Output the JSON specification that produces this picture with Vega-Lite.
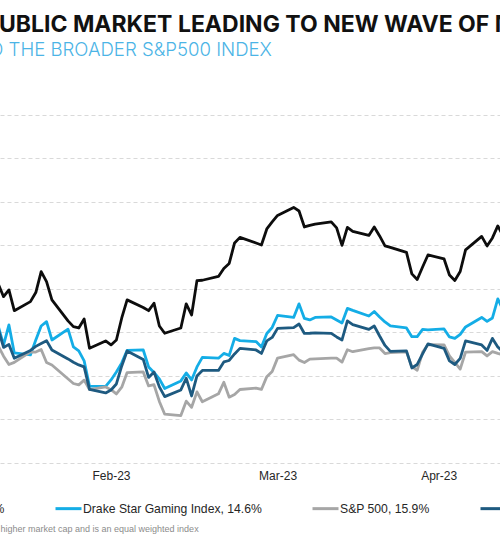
{
  "$schema": "https://vega.github.io/schema/vega-lite/v6.json",
  "width": 500,
  "height": 347.7,
  "autosize": {"type": "none"},
  "padding": {"top": 115, "left": 0, "right": 0, "bottom": 87.3},
  "background": "white",
  "config": {"view": {"stroke": null}},
  "title": {
    "text": "PUBLIC MARKET LEADING TO NEW WAVE OF M&A",
    "anchor": "start",
    "frame": "group",
    "font": "Inter",
    "fontSize": 23,
    "fontWeight": 700,
    "color": "#111111",
    "dx": -16,
    "offset": 3
  },
  "data": {
    "values": [
      {"date": "2023-02-07", "series": "Drake Star Top 10 Gaming Index*, 26.2%", "value": 115.57},
      {"date": "2023-02-08", "series": "Drake Star Top 10 Gaming Index*, 26.2%", "value": 114.10},
      {"date": "2023-02-09", "series": "Drake Star Top 10 Gaming Index*, 26.2%", "value": 114.88},
      {"date": "2023-02-10", "series": "Drake Star Top 10 Gaming Index*, 26.2%", "value": 112.49},
      {"date": "2023-02-13", "series": "Drake Star Top 10 Gaming Index*, 26.2%", "value": 113.53},
      {"date": "2023-02-14", "series": "Drake Star Top 10 Gaming Index*, 26.2%", "value": 114.57},
      {"date": "2023-02-15", "series": "Drake Star Top 10 Gaming Index*, 26.2%", "value": 116.98},
      {"date": "2023-02-16", "series": "Drake Star Top 10 Gaming Index*, 26.2%", "value": 115.83},
      {"date": "2023-02-17", "series": "Drake Star Top 10 Gaming Index*, 26.2%", "value": 113.73},
      {"date": "2023-02-20", "series": "Drake Star Top 10 Gaming Index*, 26.2%", "value": 111.32},
      {"date": "2023-02-21", "series": "Drake Star Top 10 Gaming Index*, 26.2%", "value": 110.65},
      {"date": "2023-02-22", "series": "Drake Star Top 10 Gaming Index*, 26.2%", "value": 110.50},
      {"date": "2023-02-23", "series": "Drake Star Top 10 Gaming Index*, 26.2%", "value": 111.54},
      {"date": "2023-02-24", "series": "Drake Star Top 10 Gaming Index*, 26.2%", "value": 108.17},
      {"date": "2023-02-27", "series": "Drake Star Top 10 Gaming Index*, 26.2%", "value": 109.01},
      {"date": "2023-02-28", "series": "Drake Star Top 10 Gaming Index*, 26.2%", "value": 108.55},
      {"date": "2023-03-01", "series": "Drake Star Top 10 Gaming Index*, 26.2%", "value": 109.12},
      {"date": "2023-03-02", "series": "Drake Star Top 10 Gaming Index*, 26.2%", "value": 111.65},
      {"date": "2023-03-03", "series": "Drake Star Top 10 Gaming Index*, 26.2%", "value": 113.73},
      {"date": "2023-03-06", "series": "Drake Star Top 10 Gaming Index*, 26.2%", "value": 112.86},
      {"date": "2023-03-07", "series": "Drake Star Top 10 Gaming Index*, 26.2%", "value": 112.49},
      {"date": "2023-03-08", "series": "Drake Star Top 10 Gaming Index*, 26.2%", "value": 113.35},
      {"date": "2023-03-09", "series": "Drake Star Top 10 Gaming Index*, 26.2%", "value": 110.73},
      {"date": "2023-03-10", "series": "Drake Star Top 10 Gaming Index*, 26.2%", "value": 109.89},
      {"date": "2023-03-13", "series": "Drake Star Top 10 Gaming Index*, 26.2%", "value": 110.50},
      {"date": "2023-03-14", "series": "Drake Star Top 10 Gaming Index*, 26.2%", "value": 113.27},
      {"date": "2023-03-15", "series": "Drake Star Top 10 Gaming Index*, 26.2%", "value": 112.00},
      {"date": "2023-03-16", "series": "Drake Star Top 10 Gaming Index*, 26.2%", "value": 115.95},
      {"date": "2023-03-17", "series": "Drake Star Top 10 Gaming Index*, 26.2%", "value": 115.99},
      {"date": "2023-03-20", "series": "Drake Star Top 10 Gaming Index*, 26.2%", "value": 116.43},
      {"date": "2023-03-21", "series": "Drake Star Top 10 Gaming Index*, 26.2%", "value": 117.35},
      {"date": "2023-03-22", "series": "Drake Star Top 10 Gaming Index*, 26.2%", "value": 117.92},
      {"date": "2023-03-23", "series": "Drake Star Top 10 Gaming Index*, 26.2%", "value": 120.28},
      {"date": "2023-03-24", "series": "Drake Star Top 10 Gaming Index*, 26.2%", "value": 120.92},
      {"date": "2023-03-27", "series": "Drake Star Top 10 Gaming Index*, 26.2%", "value": 120.28},
      {"date": "2023-03-28", "series": "Drake Star Top 10 Gaming Index*, 26.2%", "value": 120.05},
      {"date": "2023-03-29", "series": "Drake Star Top 10 Gaming Index*, 26.2%", "value": 121.89},
      {"date": "2023-03-30", "series": "Drake Star Top 10 Gaming Index*, 26.2%", "value": 122.70},
      {"date": "2023-03-31", "series": "Drake Star Top 10 Gaming Index*, 26.2%", "value": 123.45},
      {"date": "2023-04-03", "series": "Drake Star Top 10 Gaming Index*, 26.2%", "value": 124.37},
      {"date": "2023-04-04", "series": "Drake Star Top 10 Gaming Index*, 26.2%", "value": 123.96},
      {"date": "2023-04-05", "series": "Drake Star Top 10 Gaming Index*, 26.2%", "value": 122.12},
      {"date": "2023-04-06", "series": "Drake Star Top 10 Gaming Index*, 26.2%", "value": 122.30},
      {"date": "2023-04-07", "series": "Drake Star Top 10 Gaming Index*, 26.2%", "value": 122.45},
      {"date": "2023-04-10", "series": "Drake Star Top 10 Gaming Index*, 26.2%", "value": 122.70},
      {"date": "2023-04-11", "series": "Drake Star Top 10 Gaming Index*, 26.2%", "value": 122.01},
      {"date": "2023-04-12", "series": "Drake Star Top 10 Gaming Index*, 26.2%", "value": 120.00},
      {"date": "2023-04-13", "series": "Drake Star Top 10 Gaming Index*, 26.2%", "value": 122.07},
      {"date": "2023-04-14", "series": "Drake Star Top 10 Gaming Index*, 26.2%", "value": 121.61},
      {"date": "2023-04-17", "series": "Drake Star Top 10 Gaming Index*, 26.2%", "value": 121.15},
      {"date": "2023-04-18", "series": "Drake Star Top 10 Gaming Index*, 26.2%", "value": 122.12},
      {"date": "2023-04-19", "series": "Drake Star Top 10 Gaming Index*, 26.2%", "value": 121.09},
      {"date": "2023-04-20", "series": "Drake Star Top 10 Gaming Index*, 26.2%", "value": 119.94},
      {"date": "2023-04-21", "series": "Drake Star Top 10 Gaming Index*, 26.2%", "value": 119.77},
      {"date": "2023-04-24", "series": "Drake Star Top 10 Gaming Index*, 26.2%", "value": 119.19},
      {"date": "2023-04-25", "series": "Drake Star Top 10 Gaming Index*, 26.2%", "value": 116.72},
      {"date": "2023-04-26", "series": "Drake Star Top 10 Gaming Index*, 26.2%", "value": 116.08},
      {"date": "2023-04-27", "series": "Drake Star Top 10 Gaming Index*, 26.2%", "value": 117.52},
      {"date": "2023-04-28", "series": "Drake Star Top 10 Gaming Index*, 26.2%", "value": 118.90},
      {"date": "2023-05-01", "series": "Drake Star Top 10 Gaming Index*, 26.2%", "value": 118.44},
      {"date": "2023-05-02", "series": "Drake Star Top 10 Gaming Index*, 26.2%", "value": 116.60},
      {"date": "2023-05-03", "series": "Drake Star Top 10 Gaming Index*, 26.2%", "value": 115.97},
      {"date": "2023-05-04", "series": "Drake Star Top 10 Gaming Index*, 26.2%", "value": 117.00},
      {"date": "2023-05-05", "series": "Drake Star Top 10 Gaming Index*, 26.2%", "value": 119.48},
      {"date": "2023-05-08", "series": "Drake Star Top 10 Gaming Index*, 26.2%", "value": 121.03},
      {"date": "2023-05-09", "series": "Drake Star Top 10 Gaming Index*, 26.2%", "value": 119.94},
      {"date": "2023-05-10", "series": "Drake Star Top 10 Gaming Index*, 26.2%", "value": 120.86},
      {"date": "2023-05-11", "series": "Drake Star Top 10 Gaming Index*, 26.2%", "value": 122.24},
      {"date": "2023-05-12", "series": "Drake Star Top 10 Gaming Index*, 26.2%", "value": 121.09},

      {"date": "2023-02-07", "series": "Drake Star Gaming Index, 14.6%", "value": 110.73},
      {"date": "2023-02-08", "series": "Drake Star Gaming Index, 14.6%", "value": 108.55},
      {"date": "2023-02-09", "series": "Drake Star Gaming Index, 14.6%", "value": 110.85},
      {"date": "2023-02-10", "series": "Drake Star Gaming Index, 14.6%", "value": 107.63},
      {"date": "2023-02-13", "series": "Drake Star Gaming Index, 14.6%", "value": 107.40},
      {"date": "2023-02-14", "series": "Drake Star Gaming Index, 14.6%", "value": 109.12},
      {"date": "2023-02-15", "series": "Drake Star Gaming Index, 14.6%", "value": 110.73},
      {"date": "2023-02-16", "series": "Drake Star Gaming Index, 14.6%", "value": 111.23},
      {"date": "2023-02-17", "series": "Drake Star Gaming Index, 14.6%", "value": 109.12},
      {"date": "2023-02-20", "series": "Drake Star Gaming Index, 14.6%", "value": 110.36},
      {"date": "2023-02-21", "series": "Drake Star Gaming Index, 14.6%", "value": 108.32},
      {"date": "2023-02-22", "series": "Drake Star Gaming Index, 14.6%", "value": 107.86},
      {"date": "2023-02-23", "series": "Drake Star Gaming Index, 14.6%", "value": 106.71},
      {"date": "2023-02-24", "series": "Drake Star Gaming Index, 14.6%", "value": 103.80},
      {"date": "2023-02-27", "series": "Drake Star Gaming Index, 14.6%", "value": 103.77},
      {"date": "2023-02-28", "series": "Drake Star Gaming Index, 14.6%", "value": 104.52},
      {"date": "2023-03-01", "series": "Drake Star Gaming Index, 14.6%", "value": 105.44},
      {"date": "2023-03-02", "series": "Drake Star Gaming Index, 14.6%", "value": 106.48},
      {"date": "2023-03-03", "series": "Drake Star Gaming Index, 14.6%", "value": 107.92},
      {"date": "2023-03-06", "series": "Drake Star Gaming Index, 14.6%", "value": 107.97},
      {"date": "2023-03-07", "series": "Drake Star Gaming Index, 14.6%", "value": 106.02},
      {"date": "2023-03-08", "series": "Drake Star Gaming Index, 14.6%", "value": 105.38},
      {"date": "2023-03-09", "series": "Drake Star Gaming Index, 14.6%", "value": 104.64},
      {"date": "2023-03-10", "series": "Drake Star Gaming Index, 14.6%", "value": 103.54},
      {"date": "2023-03-13", "series": "Drake Star Gaming Index, 14.6%", "value": 104.41},
      {"date": "2023-03-14", "series": "Drake Star Gaming Index, 14.6%", "value": 105.33},
      {"date": "2023-03-15", "series": "Drake Star Gaming Index, 14.6%", "value": 104.52},
      {"date": "2023-03-16", "series": "Drake Star Gaming Index, 14.6%", "value": 106.02},
      {"date": "2023-03-17", "series": "Drake Star Gaming Index, 14.6%", "value": 107.11},
      {"date": "2023-03-20", "series": "Drake Star Gaming Index, 14.6%", "value": 107.02},
      {"date": "2023-03-21", "series": "Drake Star Gaming Index, 14.6%", "value": 107.57},
      {"date": "2023-03-22", "series": "Drake Star Gaming Index, 14.6%", "value": 107.34},
      {"date": "2023-03-23", "series": "Drake Star Gaming Index, 14.6%", "value": 109.30},
      {"date": "2023-03-24", "series": "Drake Star Gaming Index, 14.6%", "value": 109.04},
      {"date": "2023-03-27", "series": "Drake Star Gaming Index, 14.6%", "value": 108.93},
      {"date": "2023-03-28", "series": "Drake Star Gaming Index, 14.6%", "value": 108.32},
      {"date": "2023-03-29", "series": "Drake Star Gaming Index, 14.6%", "value": 109.87},
      {"date": "2023-03-30", "series": "Drake Star Gaming Index, 14.6%", "value": 110.56},
      {"date": "2023-03-31", "series": "Drake Star Gaming Index, 14.6%", "value": 111.94},
      {"date": "2023-04-03", "series": "Drake Star Gaming Index, 14.6%", "value": 111.71},
      {"date": "2023-04-04", "series": "Drake Star Gaming Index, 14.6%", "value": 113.27},
      {"date": "2023-04-05", "series": "Drake Star Gaming Index, 14.6%", "value": 111.60},
      {"date": "2023-04-06", "series": "Drake Star Gaming Index, 14.6%", "value": 111.42},
      {"date": "2023-04-07", "series": "Drake Star Gaming Index, 14.6%", "value": 111.71},
      {"date": "2023-04-10", "series": "Drake Star Gaming Index, 14.6%", "value": 111.77},
      {"date": "2023-04-11", "series": "Drake Star Gaming Index, 14.6%", "value": 111.42},
      {"date": "2023-04-12", "series": "Drake Star Gaming Index, 14.6%", "value": 111.08},
      {"date": "2023-04-13", "series": "Drake Star Gaming Index, 14.6%", "value": 112.75},
      {"date": "2023-04-14", "series": "Drake Star Gaming Index, 14.6%", "value": 112.52},
      {"date": "2023-04-17", "series": "Drake Star Gaming Index, 14.6%", "value": 111.88},
      {"date": "2023-04-18", "series": "Drake Star Gaming Index, 14.6%", "value": 112.40},
      {"date": "2023-04-19", "series": "Drake Star Gaming Index, 14.6%", "value": 111.77},
      {"date": "2023-04-20", "series": "Drake Star Gaming Index, 14.6%", "value": 111.19},
      {"date": "2023-04-21", "series": "Drake Star Gaming Index, 14.6%", "value": 110.73},
      {"date": "2023-04-24", "series": "Drake Star Gaming Index, 14.6%", "value": 110.50},
      {"date": "2023-04-25", "series": "Drake Star Gaming Index, 14.6%", "value": 109.50},
      {"date": "2023-04-26", "series": "Drake Star Gaming Index, 14.6%", "value": 109.50},
      {"date": "2023-04-27", "series": "Drake Star Gaming Index, 14.6%", "value": 110.33},
      {"date": "2023-04-28", "series": "Drake Star Gaming Index, 14.6%", "value": 110.27},
      {"date": "2023-05-01", "series": "Drake Star Gaming Index, 14.6%", "value": 110.39},
      {"date": "2023-05-02", "series": "Drake Star Gaming Index, 14.6%", "value": 109.47},
      {"date": "2023-05-03", "series": "Drake Star Gaming Index, 14.6%", "value": 109.30},
      {"date": "2023-05-04", "series": "Drake Star Gaming Index, 14.6%", "value": 109.76},
      {"date": "2023-05-05", "series": "Drake Star Gaming Index, 14.6%", "value": 110.62},
      {"date": "2023-05-08", "series": "Drake Star Gaming Index, 14.6%", "value": 111.71},
      {"date": "2023-05-09", "series": "Drake Star Gaming Index, 14.6%", "value": 111.25},
      {"date": "2023-05-10", "series": "Drake Star Gaming Index, 14.6%", "value": 111.65},
      {"date": "2023-05-11", "series": "Drake Star Gaming Index, 14.6%", "value": 113.84},
      {"date": "2023-05-12", "series": "Drake Star Gaming Index, 14.6%", "value": 112.57},

      {"date": "2023-02-07", "series": "S&P 500, 15.9%", "value": 108.45},
      {"date": "2023-02-08", "series": "S&P 500, 15.9%", "value": 107.25},
      {"date": "2023-02-09", "series": "S&P 500, 15.9%", "value": 106.30},
      {"date": "2023-02-10", "series": "S&P 500, 15.9%", "value": 106.54},
      {"date": "2023-02-13", "series": "S&P 500, 15.9%", "value": 107.76},
      {"date": "2023-02-14", "series": "S&P 500, 15.9%", "value": 107.73},
      {"date": "2023-02-15", "series": "S&P 500, 15.9%", "value": 108.02},
      {"date": "2023-02-16", "series": "S&P 500, 15.9%", "value": 106.53},
      {"date": "2023-02-17", "series": "S&P 500, 15.9%", "value": 106.24},
      {"date": "2023-02-21", "series": "S&P 500, 15.9%", "value": 104.11},
      {"date": "2023-02-22", "series": "S&P 500, 15.9%", "value": 103.95},
      {"date": "2023-02-23", "series": "S&P 500, 15.9%", "value": 104.50},
      {"date": "2023-02-24", "series": "S&P 500, 15.9%", "value": 103.40},
      {"date": "2023-02-27", "series": "S&P 500, 15.9%", "value": 103.72},
      {"date": "2023-02-28", "series": "S&P 500, 15.9%", "value": 103.40},
      {"date": "2023-03-01", "series": "S&P 500, 15.9%", "value": 102.91},
      {"date": "2023-03-02", "series": "S&P 500, 15.9%", "value": 103.69},
      {"date": "2023-03-03", "series": "S&P 500, 15.9%", "value": 105.37},
      {"date": "2023-03-06", "series": "S&P 500, 15.9%", "value": 105.44},
      {"date": "2023-03-07", "series": "S&P 500, 15.9%", "value": 103.83},
      {"date": "2023-03-08", "series": "S&P 500, 15.9%", "value": 103.97},
      {"date": "2023-03-09", "series": "S&P 500, 15.9%", "value": 102.05},
      {"date": "2023-03-10", "series": "S&P 500, 15.9%", "value": 100.58},
      {"date": "2023-03-13", "series": "S&P 500, 15.9%", "value": 100.42},
      {"date": "2023-03-14", "series": "S&P 500, 15.9%", "value": 102.08},
      {"date": "2023-03-15", "series": "S&P 500, 15.9%", "value": 101.37},
      {"date": "2023-03-16", "series": "S&P 500, 15.9%", "value": 103.15},
      {"date": "2023-03-17", "series": "S&P 500, 15.9%", "value": 102.01},
      {"date": "2023-03-20", "series": "S&P 500, 15.9%", "value": 102.92},
      {"date": "2023-03-21", "series": "S&P 500, 15.9%", "value": 104.25},
      {"date": "2023-03-22", "series": "S&P 500, 15.9%", "value": 102.54},
      {"date": "2023-03-23", "series": "S&P 500, 15.9%", "value": 102.84},
      {"date": "2023-03-24", "series": "S&P 500, 15.9%", "value": 103.42},
      {"date": "2023-03-27", "series": "S&P 500, 15.9%", "value": 103.59},
      {"date": "2023-03-28", "series": "S&P 500, 15.9%", "value": 103.43},
      {"date": "2023-03-29", "series": "S&P 500, 15.9%", "value": 104.90},
      {"date": "2023-03-30", "series": "S&P 500, 15.9%", "value": 105.50},
      {"date": "2023-03-31", "series": "S&P 500, 15.9%", "value": 107.03},
      {"date": "2023-04-03", "series": "S&P 500, 15.9%", "value": 107.42},
      {"date": "2023-04-04", "series": "S&P 500, 15.9%", "value": 106.80},
      {"date": "2023-04-05", "series": "S&P 500, 15.9%", "value": 106.53},
      {"date": "2023-04-06", "series": "S&P 500, 15.9%", "value": 106.91},
      {"date": "2023-04-10", "series": "S&P 500, 15.9%", "value": 107.02},
      {"date": "2023-04-11", "series": "S&P 500, 15.9%", "value": 107.02},
      {"date": "2023-04-12", "series": "S&P 500, 15.9%", "value": 106.57},
      {"date": "2023-04-13", "series": "S&P 500, 15.9%", "value": 107.99},
      {"date": "2023-04-14", "series": "S&P 500, 15.9%", "value": 107.77},
      {"date": "2023-04-17", "series": "S&P 500, 15.9%", "value": 108.12},
      {"date": "2023-04-18", "series": "S&P 500, 15.9%", "value": 108.21},
      {"date": "2023-04-19", "series": "S&P 500, 15.9%", "value": 108.20},
      {"date": "2023-04-20", "series": "S&P 500, 15.9%", "value": 107.56},
      {"date": "2023-04-21", "series": "S&P 500, 15.9%", "value": 107.66},
      {"date": "2023-04-24", "series": "S&P 500, 15.9%", "value": 107.75},
      {"date": "2023-04-25", "series": "S&P 500, 15.9%", "value": 106.05},
      {"date": "2023-04-26", "series": "S&P 500, 15.9%", "value": 105.64},
      {"date": "2023-04-27", "series": "S&P 500, 15.9%", "value": 107.70},
      {"date": "2023-04-28", "series": "S&P 500, 15.9%", "value": 108.59},
      {"date": "2023-05-01", "series": "S&P 500, 15.9%", "value": 108.55},
      {"date": "2023-05-02", "series": "S&P 500, 15.9%", "value": 107.29},
      {"date": "2023-05-03", "series": "S&P 500, 15.9%", "value": 106.54},
      {"date": "2023-05-04", "series": "S&P 500, 15.9%", "value": 105.77},
      {"date": "2023-05-05", "series": "S&P 500, 15.9%", "value": 107.73},
      {"date": "2023-05-08", "series": "S&P 500, 15.9%", "value": 107.78},
      {"date": "2023-05-09", "series": "S&P 500, 15.9%", "value": 107.28},
      {"date": "2023-05-10", "series": "S&P 500, 15.9%", "value": 107.77},
      {"date": "2023-05-11", "series": "S&P 500, 15.9%", "value": 107.58},
      {"date": "2023-05-12", "series": "S&P 500, 15.9%", "value": 107.41},

      {"date": "2023-02-07", "series": "Drake Star Mobile Gaming Index, 9.8%", "value": 110.39},
      {"date": "2023-02-08", "series": "Drake Star Mobile Gaming Index, 9.8%", "value": 108.26},
      {"date": "2023-02-09", "series": "Drake Star Mobile Gaming Index, 9.8%", "value": 108.61},
      {"date": "2023-02-10", "series": "Drake Star Mobile Gaming Index, 9.8%", "value": 107.02},
      {"date": "2023-02-13", "series": "Drake Star Mobile Gaming Index, 9.8%", "value": 107.92},
      {"date": "2023-02-14", "series": "Drake Star Mobile Gaming Index, 9.8%", "value": 108.38},
      {"date": "2023-02-15", "series": "Drake Star Mobile Gaming Index, 9.8%", "value": 108.72},
      {"date": "2023-02-16", "series": "Drake Star Mobile Gaming Index, 9.8%", "value": 109.04},
      {"date": "2023-02-17", "series": "Drake Star Mobile Gaming Index, 9.8%", "value": 107.97},
      {"date": "2023-02-20", "series": "Drake Star Mobile Gaming Index, 9.8%", "value": 106.94},
      {"date": "2023-02-21", "series": "Drake Star Mobile Gaming Index, 9.8%", "value": 106.56},
      {"date": "2023-02-22", "series": "Drake Star Mobile Gaming Index, 9.8%", "value": 106.25},
      {"date": "2023-02-23", "series": "Drake Star Mobile Gaming Index, 9.8%", "value": 106.02},
      {"date": "2023-02-24", "series": "Drake Star Mobile Gaming Index, 9.8%", "value": 103.43},
      {"date": "2023-02-27", "series": "Drake Star Mobile Gaming Index, 9.8%", "value": 103.03},
      {"date": "2023-02-28", "series": "Drake Star Mobile Gaming Index, 9.8%", "value": 103.37},
      {"date": "2023-03-01", "series": "Drake Star Mobile Gaming Index, 9.8%", "value": 104.06},
      {"date": "2023-03-02", "series": "Drake Star Mobile Gaming Index, 9.8%", "value": 106.13},
      {"date": "2023-03-03", "series": "Drake Star Mobile Gaming Index, 9.8%", "value": 107.86},
      {"date": "2023-03-06", "series": "Drake Star Mobile Gaming Index, 9.8%", "value": 106.88},
      {"date": "2023-03-07", "series": "Drake Star Mobile Gaming Index, 9.8%", "value": 104.81},
      {"date": "2023-03-08", "series": "Drake Star Mobile Gaming Index, 9.8%", "value": 105.44},
      {"date": "2023-03-09", "series": "Drake Star Mobile Gaming Index, 9.8%", "value": 103.72},
      {"date": "2023-03-10", "series": "Drake Star Mobile Gaming Index, 9.8%", "value": 102.60},
      {"date": "2023-03-13", "series": "Drake Star Mobile Gaming Index, 9.8%", "value": 103.37},
      {"date": "2023-03-14", "series": "Drake Star Mobile Gaming Index, 9.8%", "value": 104.72},
      {"date": "2023-03-15", "series": "Drake Star Mobile Gaming Index, 9.8%", "value": 102.68},
      {"date": "2023-03-16", "series": "Drake Star Mobile Gaming Index, 9.8%", "value": 104.98},
      {"date": "2023-03-17", "series": "Drake Star Mobile Gaming Index, 9.8%", "value": 105.61},
      {"date": "2023-03-20", "series": "Drake Star Mobile Gaming Index, 9.8%", "value": 105.61},
      {"date": "2023-03-21", "series": "Drake Star Mobile Gaming Index, 9.8%", "value": 106.59},
      {"date": "2023-03-22", "series": "Drake Star Mobile Gaming Index, 9.8%", "value": 106.76},
      {"date": "2023-03-23", "series": "Drake Star Mobile Gaming Index, 9.8%", "value": 107.51},
      {"date": "2023-03-24", "series": "Drake Star Mobile Gaming Index, 9.8%", "value": 108.15},
      {"date": "2023-03-27", "series": "Drake Star Mobile Gaming Index, 9.8%", "value": 107.97},
      {"date": "2023-03-28", "series": "Drake Star Mobile Gaming Index, 9.8%", "value": 107.57},
      {"date": "2023-03-29", "series": "Drake Star Mobile Gaming Index, 9.8%", "value": 109.01},
      {"date": "2023-03-30", "series": "Drake Star Mobile Gaming Index, 9.8%", "value": 109.41},
      {"date": "2023-03-31", "series": "Drake Star Mobile Gaming Index, 9.8%", "value": 110.45},
      {"date": "2023-04-03", "series": "Drake Star Mobile Gaming Index, 9.8%", "value": 110.54},
      {"date": "2023-04-04", "series": "Drake Star Mobile Gaming Index, 9.8%", "value": 110.96},
      {"date": "2023-04-05", "series": "Drake Star Mobile Gaming Index, 9.8%", "value": 109.87},
      {"date": "2023-04-06", "series": "Drake Star Mobile Gaming Index, 9.8%", "value": 109.89},
      {"date": "2023-04-07", "series": "Drake Star Mobile Gaming Index, 9.8%", "value": 109.93},
      {"date": "2023-04-10", "series": "Drake Star Mobile Gaming Index, 9.8%", "value": 109.87},
      {"date": "2023-04-11", "series": "Drake Star Mobile Gaming Index, 9.8%", "value": 109.47},
      {"date": "2023-04-12", "series": "Drake Star Mobile Gaming Index, 9.8%", "value": 109.12},
      {"date": "2023-04-13", "series": "Drake Star Mobile Gaming Index, 9.8%", "value": 111.31},
      {"date": "2023-04-14", "series": "Drake Star Mobile Gaming Index, 9.8%", "value": 110.88},
      {"date": "2023-04-17", "series": "Drake Star Mobile Gaming Index, 9.8%", "value": 110.33},
      {"date": "2023-04-18", "series": "Drake Star Mobile Gaming Index, 9.8%", "value": 110.73},
      {"date": "2023-04-19", "series": "Drake Star Mobile Gaming Index, 9.8%", "value": 109.58},
      {"date": "2023-04-20", "series": "Drake Star Mobile Gaming Index, 9.8%", "value": 108.49},
      {"date": "2023-04-21", "series": "Drake Star Mobile Gaming Index, 9.8%", "value": 107.80},
      {"date": "2023-04-24", "series": "Drake Star Mobile Gaming Index, 9.8%", "value": 107.86},
      {"date": "2023-04-25", "series": "Drake Star Mobile Gaming Index, 9.8%", "value": 105.90},
      {"date": "2023-04-26", "series": "Drake Star Mobile Gaming Index, 9.8%", "value": 106.30},
      {"date": "2023-04-27", "series": "Drake Star Mobile Gaming Index, 9.8%", "value": 107.51},
      {"date": "2023-04-28", "series": "Drake Star Mobile Gaming Index, 9.8%", "value": 108.66},
      {"date": "2023-05-01", "series": "Drake Star Mobile Gaming Index, 9.8%", "value": 108.15},
      {"date": "2023-05-02", "series": "Drake Star Mobile Gaming Index, 9.8%", "value": 106.71},
      {"date": "2023-05-03", "series": "Drake Star Mobile Gaming Index, 9.8%", "value": 106.30},
      {"date": "2023-05-04", "series": "Drake Star Mobile Gaming Index, 9.8%", "value": 107.00},
      {"date": "2023-05-05", "series": "Drake Star Mobile Gaming Index, 9.8%", "value": 109.01},
      {"date": "2023-05-08", "series": "Drake Star Mobile Gaming Index, 9.8%", "value": 108.55},
      {"date": "2023-05-09", "series": "Drake Star Mobile Gaming Index, 9.8%", "value": 107.92},
      {"date": "2023-05-10", "series": "Drake Star Mobile Gaming Index, 9.8%", "value": 109.30},
      {"date": "2023-05-11", "series": "Drake Star Mobile Gaming Index, 9.8%", "value": 108.32},
      {"date": "2023-05-12", "series": "Drake Star Mobile Gaming Index, 9.8%", "value": 107.74}
    ]
  },
  "mark": {"type": "line", "strokeWidth": 2.8, "clip": true, "strokeJoin": "round"},
  "encoding": {
    "x": {
      "field": "date",
      "type": "temporal",
      "scale": {
        "type": "utc",
        "domain": [
          {"year": 2023, "month": 2, "date": 7, "hours": 8, "minutes": 5, "utc": true},
          {"year": 2023, "month": 5, "date": 11, "hours": 9, "minutes": 50, "utc": true}
        ]
      },
      "axis": {
        "values": [
          {"year": 2023, "month": 2, "date": 28, "utc": true},
          {"year": 2023, "month": 3, "date": 31, "utc": true},
          {"year": 2023, "month": 4, "date": 30, "utc": true}
        ],
        "labelExpr": "utcFormat(datum.value, '%b-%y')",
        "labelFont": "Liberation Sans",
        "labelFontSize": 12,
        "labelColor": "#262626",
        "labelPadding": 8,
        "ticks": false,
        "domain": false,
        "grid": false,
        "labelFlush": false,
        "labelOverlap": false,
        "title": "higher market cap and is an equal weighted index",
        "titleFont": "Liberation Sans",
        "titleFontSize": 9,
        "titleFontWeight": "normal",
        "titleColor": "#8c8c8c",
        "titleX": 0,
        "titleY": 65.5,
        "titleAlign": "left",
        "titleAnchor": "start",
        "titleBaseline": "middle"
      }
    },
    "y": {
      "field": "value",
      "type": "quantitative",
      "scale": {"domain": [95, 135], "nice": false, "zero": false},
      "axis": {
        "values": [95, 100, 105, 110, 115, 120, 125, 130, 135],
        "grid": true,
        "gridDash": [4, 3],
        "gridColor": "#d9d9d9",
        "gridWidth": 1,
        "labels": false,
        "ticks": false,
        "domain": false,
        "title": "TO THE BROADER S&P500 INDEX",
        "titleAngle": 0,
        "titleX": -22.5,
        "titleY": -60,
        "titleAlign": "left",
        "titleBaseline": "alphabetic",
        "titleFont": "Inter",
        "titleFontSize": 18.6,
        "titleFontWeight": 300,
        "titleColor": "#4BB4E6"
      }
    },
    "color": {
      "field": "series",
      "type": "nominal",
      "sort": null,
      "scale": {
        "domain": ["Drake Star Top 10 Gaming Index*, 26.2%", "Drake Star Gaming Index, 14.6%", "S&P 500, 15.9%", "Drake Star Mobile Gaming Index, 9.8%"],
        "range": ["#0d0d0d", "#14ADE6", "#A6A6A6", "#1E5A80"]
      },
      "legend": {
        "orient": "none",
        "legendX": -248,
        "legendY": 379,
        "direction": "horizontal",
        "columns": 4,
        "title": null,
        "symbolType": "stroke",
        "symbolSize": 676,
        "symbolStrokeWidth": 3,
        "labelFont": "Liberation Sans",
        "labelFontSize": 12.2,
        "labelColor": "#262626",
        "labelOffset": 0,
        "labelLimit": 400,
        "columnPadding": 44,
        "padding": 0
      }
    }
  }
}
